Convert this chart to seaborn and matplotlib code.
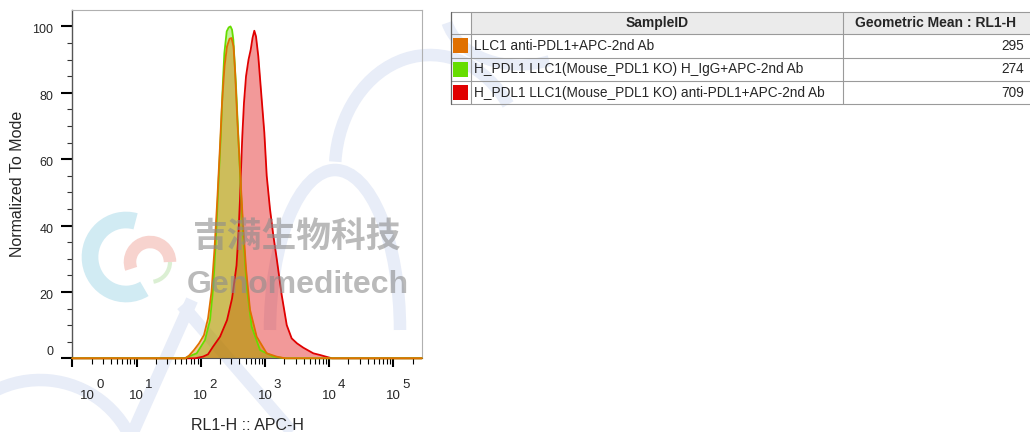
import numpy as np
import pandas as pd
import matplotlib
matplotlib.use("Agg")
import matplotlib.pyplot as plt
import matplotlib.transforms as mtransforms
from matplotlib.ticker import LogLocator, MultipleLocator, FixedLocator, NullFormatter
from matplotlib.patches import Arc, Rectangle
import seaborn as sns

# histogram outlines: log10(RL1-H) and % of mode
orange_logx = [0.0, 1.755, 1.818, 1.896, 1.974, 2.051, 2.114, 2.168, 2.215, 2.259, 2.298, 2.332,
               2.371, 2.410, 2.449, 2.480, 2.511, 2.534, 2.570, 2.612, 2.654, 2.706, 2.768,
               2.872, 3.028, 3.184, 3.313, 5.442]
orange_pct = [0, 0, 0.8, 2.5, 4.5, 7, 12, 20, 33, 48, 63, 77,
              88, 94, 96.3, 96.5, 94, 87, 72, 57, 42, 27, 14.6,
              6.5, 1.5, 0.5, 0, 0]

green_logx = [0.0, 1.760, 1.807, 1.938, 2.067, 2.145, 2.196, 2.238, 2.274, 2.312, 2.343, 2.368,
              2.405, 2.436, 2.464, 2.488, 2.508, 2.550, 2.586, 2.623, 2.664, 2.717, 2.794,
              2.924, 3.131, 3.313, 5.442]
green_pct = [0, 0, 0.5, 1.5, 5.5, 11.5, 21.5, 36.6, 51.7, 66.8, 81.9, 91.9,
             98.5, 99.7, 100, 99, 96, 81.9, 66.8, 51.7, 36.6, 21.5, 9.5,
             2.5, 0.5, 0, 0]

red_logx = [0.0, 1.911, 2.036, 2.114, 2.192, 2.301, 2.410, 2.488, 2.558, 2.589, 2.612, 2.628,
            2.648, 2.674, 2.706, 2.745, 2.779, 2.807, 2.835, 2.861, 2.897, 2.950, 2.991,
            3.028, 3.079, 3.131, 3.184, 3.262, 3.340, 3.417, 3.500, 3.598, 3.754, 3.858,
            3.967, 4.045, 5.442]
red_pct = [0, 0, 0.5, 1.2, 3.5, 6.5, 11.5, 18, 28, 38, 48, 57,
           67, 77, 85, 90, 93, 96.5, 98.7, 97, 91, 78, 68,
           55, 45, 37, 30, 19, 10, 6, 4.5, 3.2, 1.5, 1,
           0.4, 0, 0]

sample_ids = ["LLC1 anti-PDL1+APC-2nd Ab",
              "H_PDL1 LLC1(Mouse_PDL1 KO) H_IgG+APC-2nd Ab",
              "H_PDL1 LLC1(Mouse_PDL1 KO) anti-PDL1+APC-2nd Ab"]
geo_means = [295, 274, 709]
sample_colors = ["#e07000", "#66dd00", "#e00000"]

y_ticks = [0, 20, 40, 60, 80, 100]
x_decades = [0, 1, 2, 3, 4, 5]

sns.set_style("ticks")
plt.rcParams['font.family'] = ['Liberation Sans', 'DejaVu Sans']

W, H = 1030, 432
fig = plt.figure(figsize=(W / 100, H / 100), dpi=100)

# faint watermark strokes behind everything (pixel coords, y downwards)
bgax = fig.add_axes([0, 0, 1, 1], zorder=0)
bgax.set_xlim(0, W)
bgax.set_ylim(H, 0)
bgax.axis("off")
bg = "#e8edf8"
for (cx, cy, w, h, t1, t2, lw) in [(335, 330, 130, 320, 180, 360, 9),
                                   (430, 170, 190, 230, 185, 320, 9),
                                   (40, 480, 200, 200, 210, 340, 9),
                                   (520, 10, 150, 110, 60, 170, 8)]:
    bgax.add_patch(Arc((cx, cy), w, h, theta1=t1, theta2=t2, color=bg, lw=lw))
bgax.plot([133, 192], [432, 300], color=bg, lw=9, solid_capstyle="butt")
bgax.plot([182, 292], [305, 432], color=bg, lw=9, solid_capstyle="butt")

ax = fig.add_axes([72.3 / W, (H - 358.3) / H, 349.4 / W, 348.3 / H], zorder=1)
ax.patch.set_alpha(0)

# draw red first, then green, orange on top
series = [(red_logx, red_pct, sample_colors[2]),
          (green_logx, green_pct, sample_colors[1]),
          (orange_logx, orange_pct, sample_colors[0])]
for lx, pct, col in series:
    xs = 10 ** np.array(lx)
    ax.fill_between(xs, pct, 0, color=col, alpha=0.4, lw=0, zorder=2)
    sns.lineplot(x=xs, y=pct, sort=False, estimator=None, color=col, lw=1.3, ax=ax, zorder=3)
    ax.lines[-1].set_clip_on(False)

ax.set_xscale("log")
ax.set_xlim(1, 10 ** 5.442)
ax.set_ylim(0, 104.95)

for s in ["top", "right"]:
    ax.spines[s].set_color("#b0b0b0")
    ax.spines[s].set_linewidth(0.8)
ax.spines["left"].set_color("#555555")
ax.spines["left"].set_linewidth(1.0)
ax.spines["bottom"].set_color("#555555")

ax.xaxis.set_major_locator(FixedLocator([10 ** d for d in x_decades]))
ax.xaxis.set_minor_locator(LogLocator(base=10, subs=np.arange(2, 10), numticks=30))
ax.xaxis.set_major_formatter(NullFormatter())
ax.xaxis.set_minor_formatter(NullFormatter())
ax.yaxis.set_major_locator(FixedLocator(y_ticks))
ax.yaxis.set_minor_locator(MultipleLocator(5))
ax.yaxis.set_major_formatter(NullFormatter())
ax.tick_params(axis="x", which="major", length=6.5, width=1.5, color="black")
ax.tick_params(axis="x", which="minor", length=4, width=0.8, color="black")
ax.tick_params(axis="y", which="major", length=7.7, width=1.5, color="black")
ax.tick_params(axis="y", which="minor", length=3.6, width=0.8, color="#333333")

# y tick labels, FlowJo style (a bit below the tick, "0" lifted off the x axis)
for v in y_ticks:
    dy = 6 if v == 0 else -4
    tr = mtransforms.offset_copy(ax.get_yaxis_transform(), fig, x=-19, y=dy, units="dots")
    ax.text(0, v, str(v), transform=tr, ha="right", va="center", fontsize=9, clip_on=False)

# x tick labels as 10 with a raised exponent
for d in x_decades:
    dx = 15.2 if d == 0 else 0
    tr = mtransforms.offset_copy(ax.get_xaxis_transform(), fig, x=dx, y=-37.7, units="dots")
    ax.text(10 ** d, 0, "10", transform=tr, ha="center", va="center", fontsize=9.5, clip_on=False)
    tr2 = mtransforms.offset_copy(ax.get_xaxis_transform(), fig, x=dx + 12.6, y=-26.2, units="dots")
    ax.text(10 ** d, 0, str(d), transform=tr2, ha="center", va="center", fontsize=9.5, clip_on=False)

ax.set_xlabel("RL1-H :: APC-H", fontsize=11.5, va="center")
ax.xaxis.set_label_coords(0.5, (358.3 - 425) / 348.3)
ax.set_ylabel("Normalized To Mode", fontsize=11.5, va="center")
ax.yaxis.set_label_coords((17.5 - 72.3) / 349.4, 0.5)

# overlay in pixel coordinates for the stats table and the watermark
ov = fig.add_axes([0, 0, 1, 1], zorder=5)
ov.set_xlim(0, W)
ov.set_ylim(H, 0)
ov.axis("off")
ov.patch.set_alpha(0)

# logo swirl
ov.add_patch(Arc((126, 257), 72, 74, theta1=60, theta2=285, color="#c6e6f0", lw=12, alpha=0.8))
ov.add_patch(Arc((150, 262), 40, 40, theta1=160, theta2=360, color="#f6c8c2", lw=9, alpha=0.8))
ov.add_patch(Arc((150, 262), 40, 40, theta1=0, theta2=80, color="#d3ecc8", lw=3, alpha=0.8))

ov.text(297, 236.7, "吉满生物科技", family=["Noto Sans CJK SC", "DejaVu Sans"], fontweight="bold",
        fontsize=25, color="#8c8c8c", alpha=0.6, ha="center", va="center")
ov.text(297.5, 293.3, "Genomeditech", fontweight="bold", fontsize=23, color="#8c8c8c",
        alpha=0.6, ha="center", va="baseline")

# table
tl, c1, c2, tr_ = 450.7, 470.7, 842.7, 1032
rows_y = [12.3, 34.3, 57.6, 80.9, 104.3]
ov.add_patch(Rectangle((c1, rows_y[0]), tr_ - c1, rows_y[1] - rows_y[0], color="#ebebeb", lw=0))
for y in rows_y:
    ov.plot([tl, tr_], [y, y], color="#9a9a9a", lw=0.8)
ov.plot([tl, tl], [rows_y[0], rows_y[-1]], color="#666666", lw=0.9)
for x in [c1, c2]:
    ov.plot([x, x], [rows_y[0], rows_y[-1]], color="#9a9a9a", lw=0.8)
ov.text((c1 + c2) / 2, (rows_y[0] + rows_y[1]) / 2, "SampleID", fontweight="bold",
        fontsize=10, ha="center", va="center")
ov.text((c2 + 1028) / 2, (rows_y[0] + rows_y[1]) / 2, "Geometric Mean : RL1-H", fontweight="bold",
        fontsize=10, ha="center", va="center")
for i, (sid, gm, col) in enumerate(zip(sample_ids, geo_means, sample_colors)):
    yc = (rows_y[i + 1] + rows_y[i + 2]) / 2
    ov.add_patch(Rectangle((453, yc - 7.5), 14.5, 15, color=col, lw=0))
    ov.text(474, yc, sid, fontsize=9.8, ha="left", va="center")
    ov.text(1024, yc, str(gm), fontsize=9.8, ha="right", va="center")

fig.savefig("out.png", dpi=100)
